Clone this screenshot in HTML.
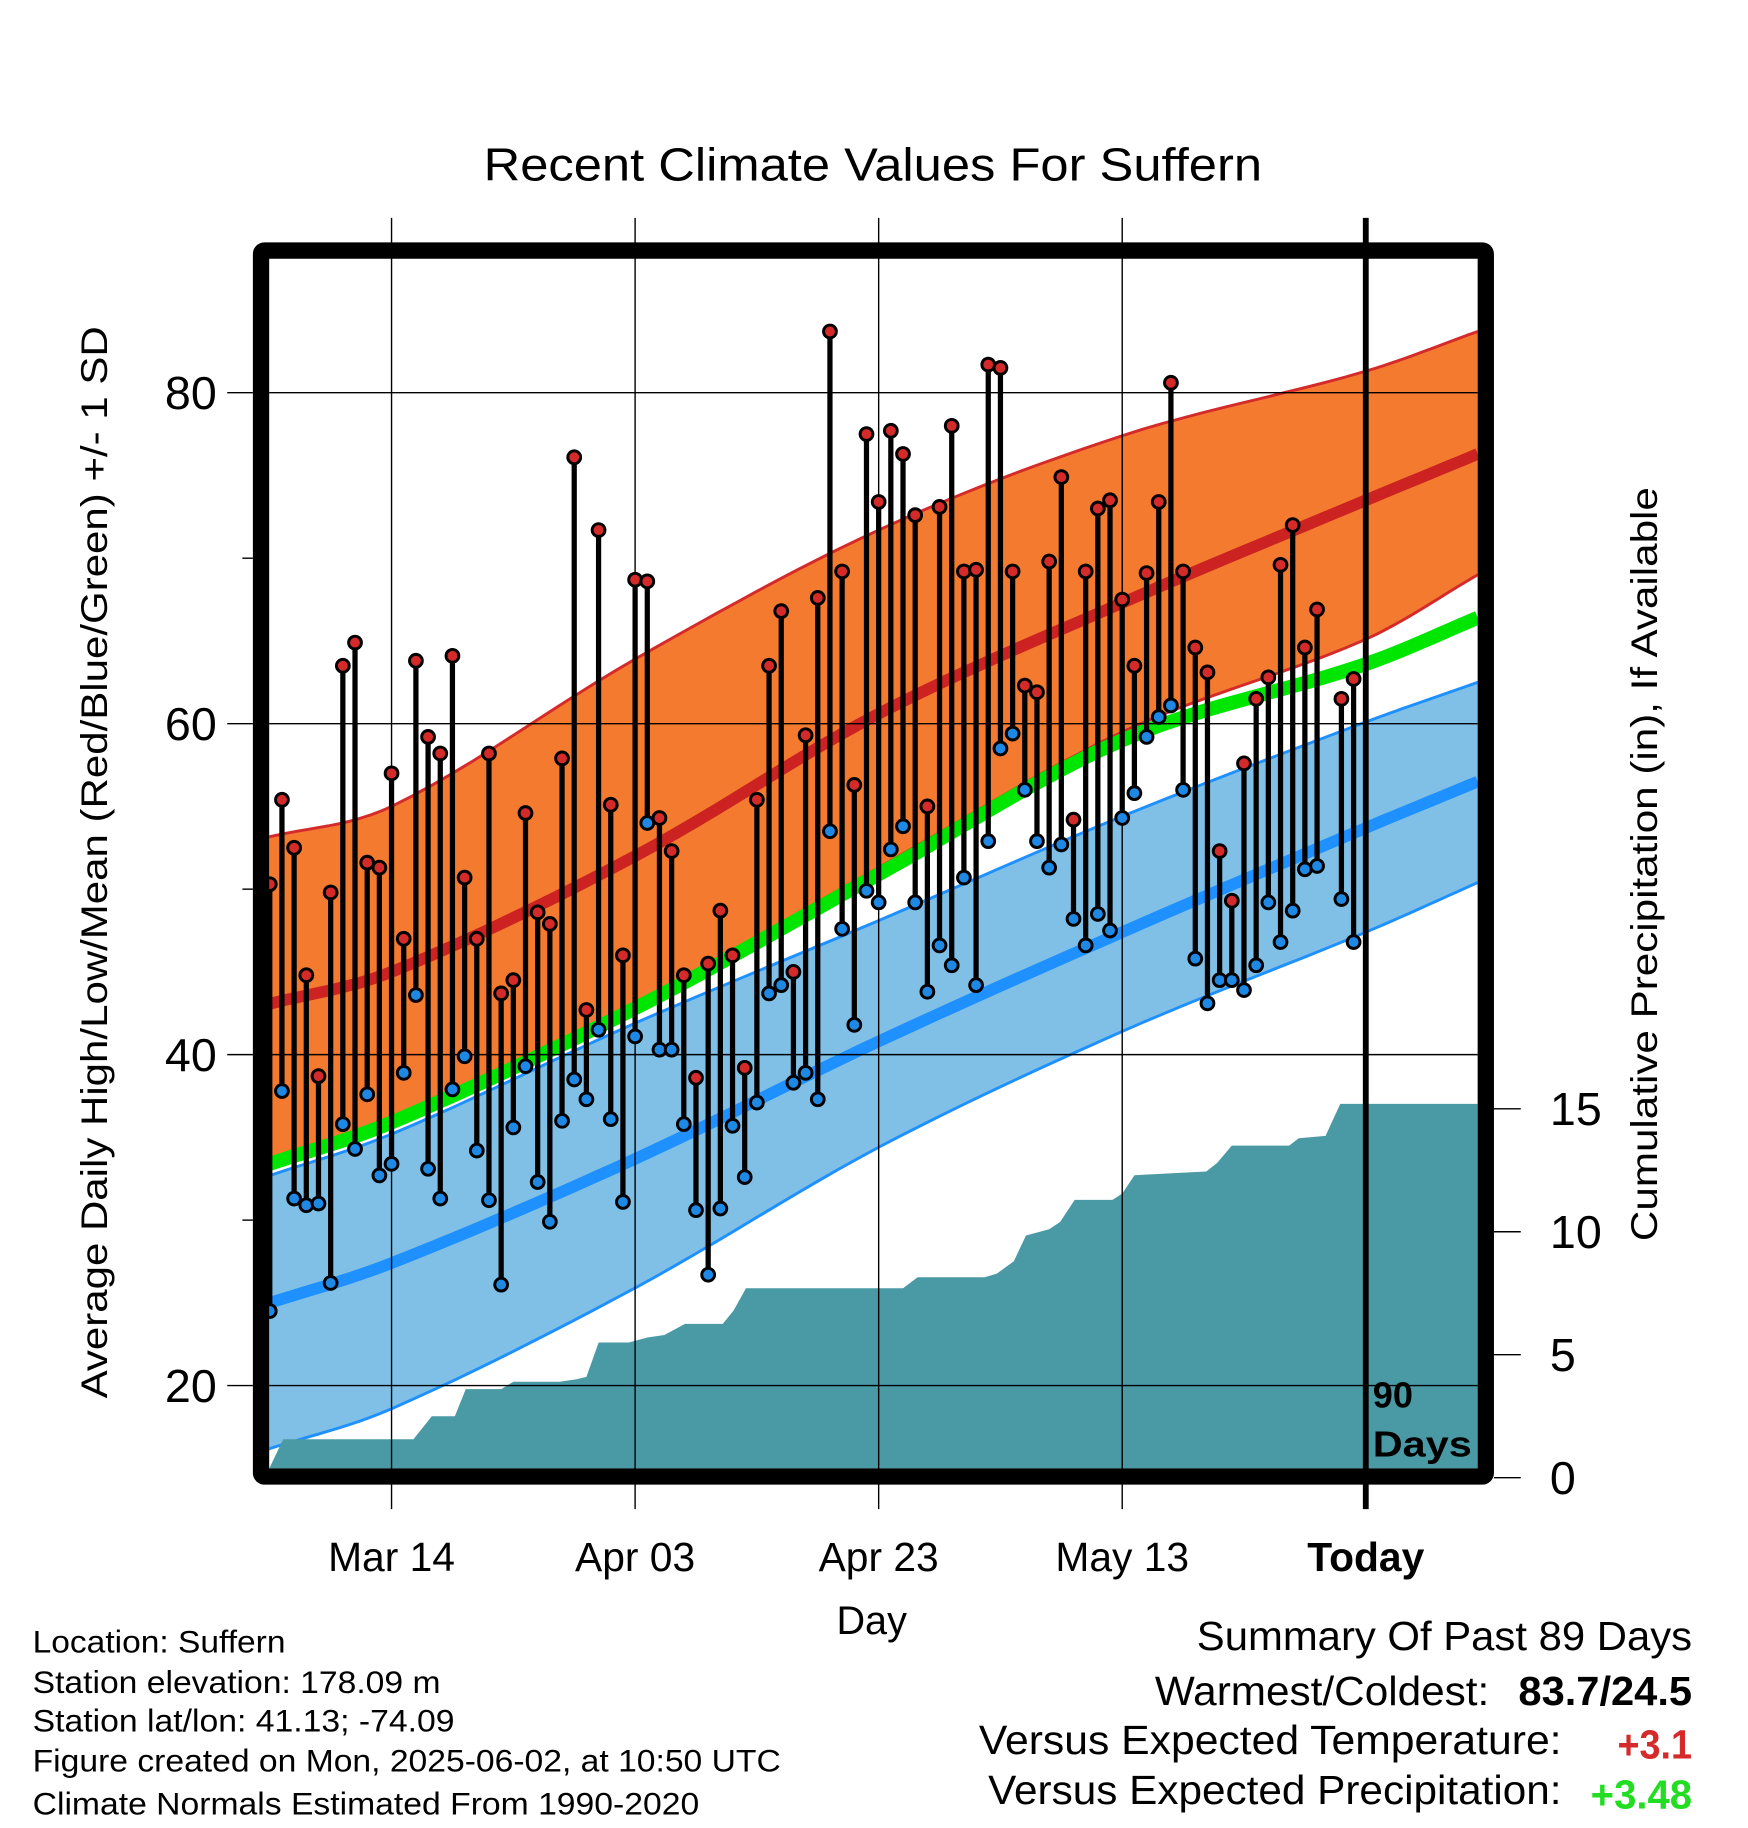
<!DOCTYPE html>
<html><head><meta charset="utf-8"><style>
html,body{margin:0;padding:0;background:#fff;}
svg{display:block;font-family:"Liberation Sans",Arial,sans-serif;}
</style></head><body>
<svg id="chart" width="1748" height="1828" viewBox="0 0 1500 1568.65" xmlns="http://www.w3.org/2000/svg">
<rect width="1500" height="1568.65" fill="#fff"/>
<text x="415" y="155" font-size="40" textLength="668" lengthAdjust="spacingAndGlyphs">Recent Climate Values For Suffern</text>
<g id="bands"></g>
<g id="precip"></g>
<g id="grid"></g>
<g id="stems"></g>
<g id="frame"></g>
<g id="axes"></g>
<text transform="translate(92,1200) rotate(-90)" font-size="32" textLength="920" lengthAdjust="spacingAndGlyphs">Average Daily High/Low/Mean (Red/Blue/Green) +/- 1 SD</text>
<text transform="translate(1422,1065) rotate(-90)" font-size="32" textLength="647" lengthAdjust="spacingAndGlyphs">Cumulative Precipitation (in), If Available</text>
<text x="748" y="1402" font-size="34" text-anchor="middle">Day</text>
<text x="1178" y="1208" font-size="31" font-weight="bold">90</text>
<text x="1178" y="1250" font-size="31" font-weight="bold" textLength="85" lengthAdjust="spacingAndGlyphs">Days</text>
<g font-size="27">
<text x="28" y="1418" textLength="217" lengthAdjust="spacingAndGlyphs">Location: Suffern</text>
<text x="28" y="1453" textLength="350" lengthAdjust="spacingAndGlyphs">Station elevation: 178.09 m</text>
<text x="28" y="1486" textLength="362" lengthAdjust="spacingAndGlyphs">Station lat/lon: 41.13; -74.09</text>
<text x="28" y="1520" textLength="642" lengthAdjust="spacingAndGlyphs">Figure created on Mon, 2025-06-02, at 10:50 UTC</text>
<text x="28" y="1557" textLength="572" lengthAdjust="spacingAndGlyphs">Climate Normals Estimated From 1990-2020</text>
</g>
<g font-size="35">
<text x="1027" y="1416" textLength="425" lengthAdjust="spacingAndGlyphs">Summary Of Past 89 Days</text>
<text x="991" y="1463" textLength="287" lengthAdjust="spacingAndGlyphs">Warmest/Coldest:</text>
<text x="1303" y="1463" font-weight="bold" textLength="149" lengthAdjust="spacingAndGlyphs">83.7/24.5</text>
<text x="840" y="1505" textLength="500" lengthAdjust="spacingAndGlyphs">Versus Expected Temperature:</text>
<text x="1388" y="1509" font-weight="bold" fill="#d42a2a" textLength="64" lengthAdjust="spacingAndGlyphs">+3.1</text>
<text x="848" y="1548" textLength="492" lengthAdjust="spacingAndGlyphs">Versus Expected Precipitation:</text>
<text x="1365" y="1552" font-weight="bold" fill="#22dd22" textLength="87" lengthAdjust="spacingAndGlyphs">+3.48</text>
</g>
</svg>
<script>
const highs=[50.3,55.4,52.5,44.8,38.7,49.8,63.5,64.9,51.6,51.3,57.0,47.0,63.8,59.2,58.2,64.1,50.7,47.0,58.2,43.7,44.5,54.6,48.6,47.9,57.9,76.1,42.7,71.7,55.1,46.0,68.7,68.6,54.3,52.3,44.8,38.6,45.5,48.7,46.0,39.2,55.4,63.5,66.8,45.0,59.3,67.6,83.7,69.2,56.3,77.5,73.4,77.7,76.3,72.6,55.0,73.1,78.0,69.2,69.3,81.7,81.5,69.2,62.3,61.9,69.8,74.9,54.2,69.2,73.0,73.5,67.5,63.5,69.1,73.4,80.6,69.2,64.6,63.1,52.3,49.3,57.6,61.5,62.8,69.6,72.0,64.6,66.9,null,61.5,62.7];
const lows=[24.5,37.8,31.3,30.9,31.0,26.2,35.8,34.3,37.6,32.7,33.4,38.9,43.6,33.1,31.3,37.9,39.9,34.2,31.2,26.1,35.6,39.3,32.3,29.9,36.0,38.5,37.3,41.5,36.1,31.1,41.1,54.0,40.3,40.3,35.8,30.6,26.7,30.7,35.7,32.6,37.1,43.7,44.2,38.3,38.9,37.3,53.5,47.6,41.8,49.9,49.2,52.4,53.8,49.2,43.8,46.6,45.4,50.7,44.2,52.9,58.5,59.4,56.0,52.9,51.3,52.7,48.2,46.6,48.5,47.5,54.3,55.8,59.2,60.4,61.1,56.0,45.8,43.1,44.5,44.5,43.9,45.4,49.2,46.8,48.7,51.2,51.4,null,49.4,46.8];
const normDays=[-90.4,-80,-60,-40,-20,0,9.2];
const redUpper=[53.1,55.0,63.9,71.7,77.4,81.3,83.7];
const redMean=[43.0,45.0,52.0,60.6,67.3,73.5,76.3];
const redLower=[33.3,35.6,43.0,51.3,59.5,65.1,69.0];
const greenMean=[33.3,35.9,42.8,50.9,59.0,63.6,66.4];
const blueUpper=[32.6,35.2,41.9,48.1,54.4,60.1,62.5];
const blueMean=[24.9,27.4,33.7,40.8,47.4,53.7,56.5];
const blueLower=[16.1,18.6,25.9,34.4,41.4,47.4,50.4];
const precipDays=[-90.4,-88.9,-78.2,-76.7,-74.8,-73.9,-71,-70,-66.2,-64.8,-64,-63,-60.5,-59,-57.6,-55.9,-52.8,-51.9,-50.9,-38,-36.8,-31.3,-30.3,-28.9,-27.9,-26,-25.1,-23.9,-20.8,-20,-19,-13.1,-12.2,-11,-6.3,-5.5,-3.3,-2.1,9.2];
const precipVals=[0,1.56,1.56,2.5,2.5,3.6,3.6,3.9,3.9,4.0,4.1,5.5,5.5,5.7,5.8,6.25,6.25,6.8,7.7,7.7,8.15,8.15,8.3,8.8,9.85,10.1,10.4,11.3,11.3,11.55,12.3,12.45,12.8,13.5,13.5,13.8,13.9,15.2,15.2];
const yTicks=[20,40,60,80], yMinor=[30,50,70], pTicks=[0,5,10,15];
const xTickDays=[-80,-60,-40,-20,0], xTickLabels=["Mar 14","Apr 03","Apr 23","May 13","Today"];

const NS="http://www.w3.org/2000/svg";
const L=231,R=1268,T=222,B=1260;
const x=d=>1172+d*10.45;
const y=v=>337+(80-v)*14.2;
const yp=v=>1268-v*21.1;
function mk(tag,attrs,parent){const e=document.createElementNS(NS,tag);for(const k in attrs)e.setAttribute(k,attrs[k]);parent.appendChild(e);return e;}
function curve(vals){
  const n=normDays.length, m=[];
  for(let i=0;i<n;i++){
    const a=Math.max(0,i-1), b=Math.min(n-1,i+1);
    m.push((vals[b]-vals[a])/(normDays[b]-normDays[a]));
  }
  const pts=[];
  for(let i=0;i<n-1;i++){
    const h=normDays[i+1]-normDays[i];
    for(let k=0;k<12;k++){
      const t=k/12,t2=t*t,t3=t2*t;
      const v=(2*t3-3*t2+1)*vals[i]+(t3-2*t2+t)*h*m[i]+(-2*t3+3*t2)*vals[i+1]+(t3-t2)*h*m[i+1];
      pts.push([x(normDays[i]+t*h),y(v)]);
    }
  }
  pts.push([x(normDays[n-1]),y(vals[n-1])]);
  return pts;
}
const P=pts=>pts.map(p=>p[0].toFixed(1)+","+p[1].toFixed(1)).join(" ");
const bands=document.getElementById('bands');
const defs=mk('defs',{},bands);const cp=mk('clipPath',{id:'clip'},defs);mk('rect',{x:L,y:T,width:R-L,height:B-T},cp);
const bg=mk('g',{'clip-path':'url(#clip)'},bands);
const ru=curve(redUpper),rl=curve(redLower);
let e=mk('polygon',{points:P(ru.concat(rl.slice().reverse())),fill:'#f47a2f'},bg);


mk('polyline',{points:P(ru),fill:'none',stroke:'#d42a2a','stroke-width':2.5},bg);
mk('polyline',{points:P(rl),fill:'none',stroke:'#d42a2a','stroke-width':2.5},bg);
e=mk('polyline',{points:P(curve(redMean)),fill:'none',stroke:'#cc2222','stroke-width':10},bg);


const bu=curve(blueUpper),bl=curve(blueLower);
e=mk('polygon',{points:P(bu.concat(bl.slice().reverse())),fill:'#80c0e6'},bg);


mk('polyline',{points:P(bu),fill:'none',stroke:'#1e90ff','stroke-width':2.5},bg);
mk('polyline',{points:P(bl),fill:'none',stroke:'#1e90ff','stroke-width':2.5},bg);
e=mk('polyline',{points:P(curve(blueMean)),fill:'none',stroke:'#1e90ff','stroke-width':10},bg);


e=mk('polyline',{points:P(curve(greenMean)),fill:'none',stroke:'#00e600','stroke-width':12},bg);


const pg=document.getElementById('precip');
let pp=precipDays.map((d,i)=>[x(d),yp(precipVals[i])]);
pp.push([x(precipDays[precipDays.length-1]),yp(0)]);pp.push([x(precipDays[0]),yp(0)]);
e=mk('polygon',{points:P(pp),fill:'#4a9aa5','clip-path':'url(#clip)'},pg);


const gg=document.getElementById('grid');
yTicks.forEach(v=>{mk('line',{x1:L,x2:R,y1:y(v),y2:y(v),stroke:'#000','stroke-width':1.2},gg);});
xTickDays.forEach((d,i)=>{
  if(d===0){
    e=mk('line',{x1:x(d),x2:x(d),y1:187,y2:1295,stroke:'#000','stroke-width':5},gg);
    
    
  } else mk('line',{x1:x(d),x2:x(d),y1:187,y2:1295,stroke:'#000','stroke-width':1.2},gg);
});
const sg=document.getElementById('stems');
highs.forEach((h,i)=>{
  if(h===null)return;
  const xx=x(i-90);
  e=mk('line',{x1:xx,x2:xx,y1:y(h),y2:y(lows[i]),stroke:'#000','stroke-width':4.5},sg);
  
  
});
highs.forEach((h,i)=>{
  if(h===null)return;
  const xx=x(i-90);
  e=mk('circle',{cx:xx,cy:y(h),r:5.5,fill:'#d42a2a',stroke:'#000','stroke-width':2.5},sg);
  
  
  e=mk('circle',{cx:xx,cy:y(lows[i]),r:5.5,fill:'#1e88e5',stroke:'#000','stroke-width':2.5},sg);
  
  
});
e=mk('rect',{x:224,y:215,width:1051,height:1052,fill:'none',stroke:'#000','stroke-width':14,rx:3},document.getElementById('frame'));


const ag=document.getElementById('axes');
yTicks.forEach(v=>{
  mk('line',{x1:195,x2:217,y1:y(v),y2:y(v),stroke:'#000','stroke-width':1.2},ag);
  e=mk('text',{x:186,y:y(v)+14,'font-size':40,'text-anchor':'end'},ag);e.textContent=v;
  
  
});
yMinor.forEach(v=>{mk('line',{x1:208,x2:217,y1:y(v),y2:y(v),stroke:'#000','stroke-width':1.2},ag);});
pTicks.forEach(v=>{
  mk('line',{x1:1282,x2:1305,y1:yp(v),y2:yp(v),stroke:'#000','stroke-width':1.2},ag);
  e=mk('text',{x:1330,y:yp(v)+14,'font-size':40},ag);e.textContent=v;
  
  
});
xTickDays.forEach((d,i)=>{
  e=mk('text',{x:x(d),y:1348,'font-size':35,'text-anchor':'middle'},ag);e.textContent=xTickLabels[i];
  if(d===0)e.setAttribute('font-weight','bold');
  
  
});
</script>
</body></html>
